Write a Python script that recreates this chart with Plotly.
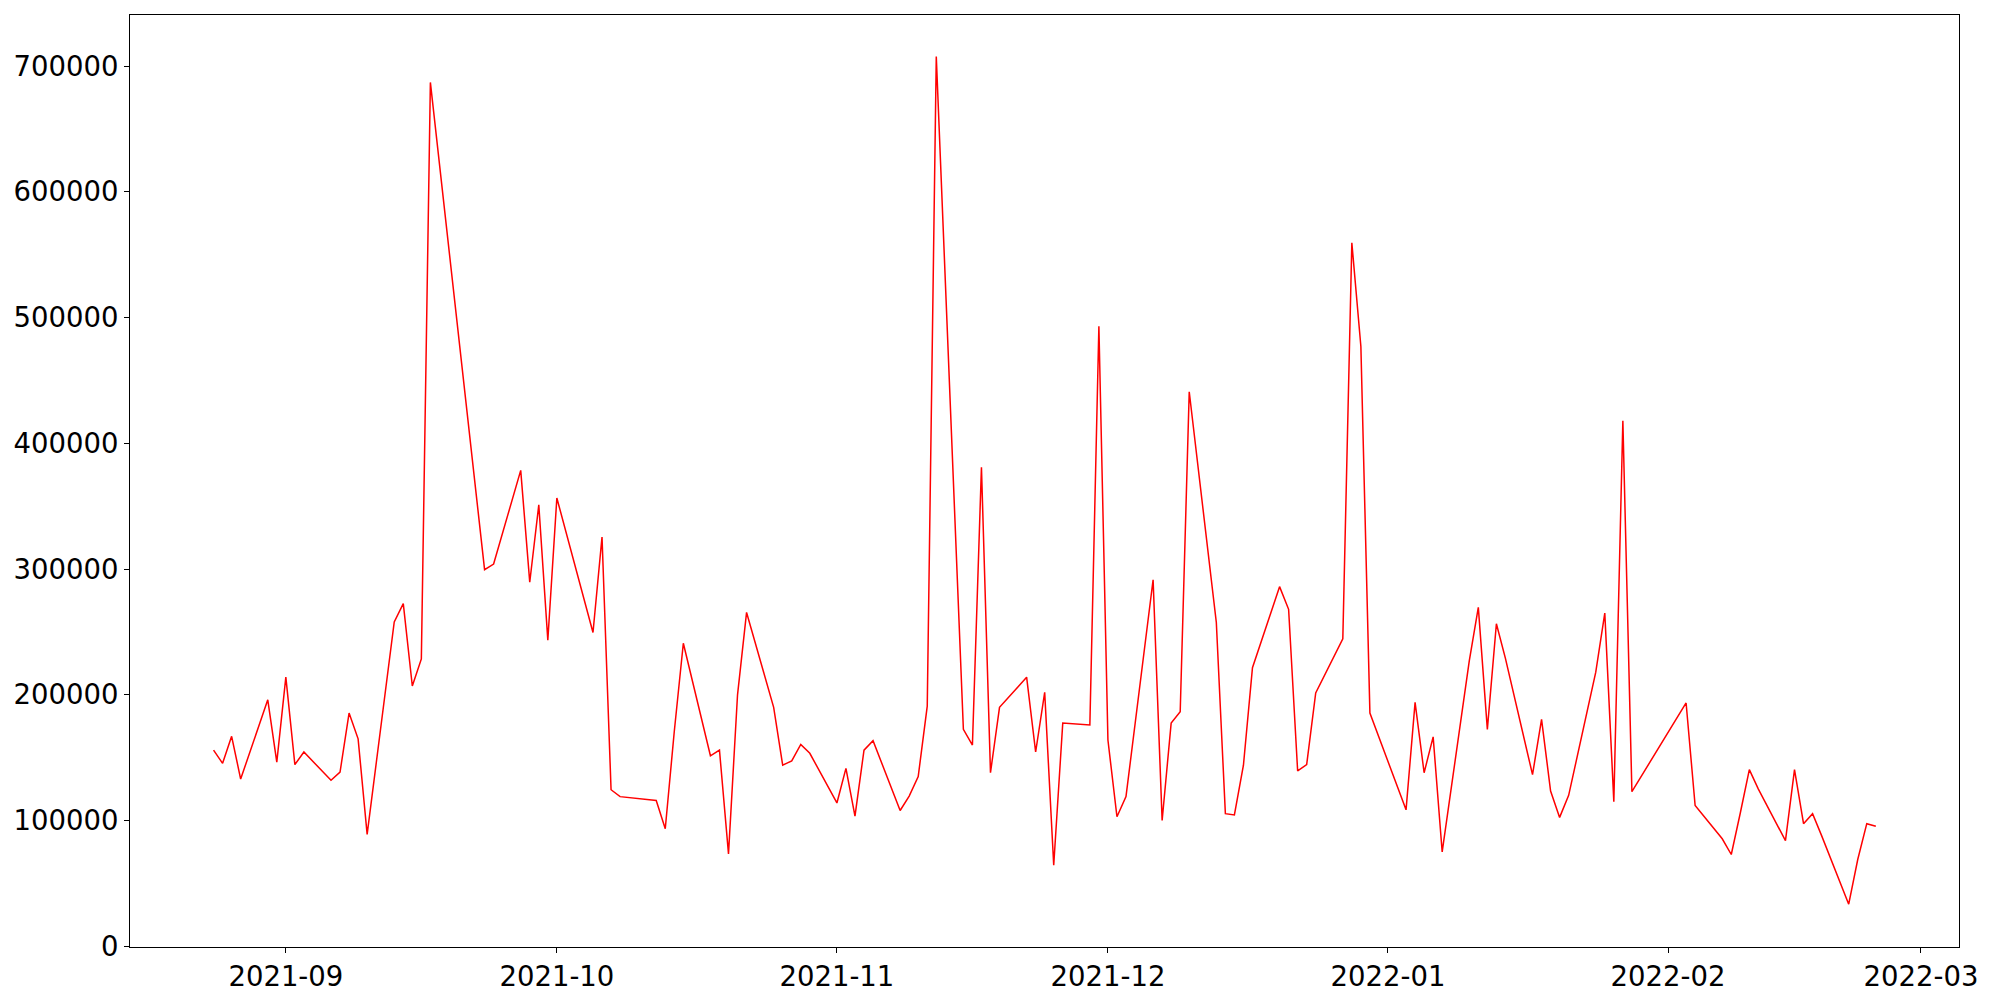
import plotly.graph_objects as go

dates = [
    "2021-08-24", "2021-08-25", "2021-08-26", "2021-08-27", "2021-08-30", "2021-08-31",
    "2021-09-01", "2021-09-02", "2021-09-03", "2021-09-06", "2021-09-07", "2021-09-08",
    "2021-09-09", "2021-09-10", "2021-09-13", "2021-09-14", "2021-09-15", "2021-09-16",
    "2021-09-17", "2021-09-23", "2021-09-24", "2021-09-27", "2021-09-28", "2021-09-29",
    "2021-09-30", "2021-10-01", "2021-10-05", "2021-10-06", "2021-10-07", "2021-10-08",
    "2021-10-12", "2021-10-13", "2021-10-14", "2021-10-15", "2021-10-18", "2021-10-19",
    "2021-10-20", "2021-10-21", "2021-10-22", "2021-10-25", "2021-10-26", "2021-10-27",
    "2021-10-28", "2021-10-29", "2021-11-01", "2021-11-02", "2021-11-03", "2021-11-04",
    "2021-11-05", "2021-11-08", "2021-11-09", "2021-11-10", "2021-11-11", "2021-11-12",
    "2021-11-15", "2021-11-16", "2021-11-17", "2021-11-18", "2021-11-19", "2021-11-22",
    "2021-11-23", "2021-11-24", "2021-11-25", "2021-11-26", "2021-11-29", "2021-11-30",
    "2021-12-01", "2021-12-02", "2021-12-03", "2021-12-06", "2021-12-07", "2021-12-08",
    "2021-12-09", "2021-12-10", "2021-12-13", "2021-12-14", "2021-12-15", "2021-12-16",
    "2021-12-17", "2021-12-20", "2021-12-21", "2021-12-22", "2021-12-23", "2021-12-24",
    "2021-12-27", "2021-12-28", "2021-12-29", "2021-12-30", "2022-01-03", "2022-01-04",
    "2022-01-05", "2022-01-06", "2022-01-07", "2022-01-10", "2022-01-11", "2022-01-12",
    "2022-01-13", "2022-01-14", "2022-01-17", "2022-01-18", "2022-01-19", "2022-01-20",
    "2022-01-21", "2022-01-24", "2022-01-25", "2022-01-26", "2022-01-27", "2022-01-28",
    "2022-02-03", "2022-02-04", "2022-02-07", "2022-02-08", "2022-02-09", "2022-02-10",
    "2022-02-11", "2022-02-14", "2022-02-15", "2022-02-16", "2022-02-17", "2022-02-18",
    "2022-02-21", "2022-02-22", "2022-02-23", "2022-02-24",
]

values = [
    156000, 145500, 167000, 133000, 196000, 146500,
    214000, 144500, 154500, 132000, 138500, 185500,
    165000, 89000, 258000, 272500, 207000, 228500,
    687000, 299500, 304000, 378500, 289500, 351000,
    243500, 356500, 249500, 325500, 124500, 119000,
    116000, 93500, 171000, 241000, 151500, 156000,
    73500, 200000, 265500, 190000, 144000, 147500,
    160500, 153500, 114000, 141500, 103500, 156000,
    163500, 108000, 119500, 135000, 191000, 707500,
    172500, 160000, 381000, 138000, 190000, 214000,
    154500, 202000, 64500, 177500, 176000, 493000,
    164000, 103000, 119000, 291500, 100000, 177500,
    186500, 441000, 257500, 105500, 104500, 144000,
    221500, 286000, 268000, 139500, 144500, 201500,
    244500, 559500, 477000, 185500, 108500, 194000,
    138000, 166500, 75000, 227000, 269500, 172500,
    256500, 229000, 136500, 180500, 123500, 102500,
    120000, 218000, 265000, 115000, 418000, 123000,
    193500, 112000, 85500, 73000, 106000, 140500,
    125000, 84000, 140500, 97500, 105500, 88000,
    33500, 69000, 97500, 95500,
]

y_ticks = [0, 100000, 200000, 300000, 400000, 500000, 600000, 700000]

fig = go.Figure(
    go.Scatter(
        x=dates,
        y=values,
        mode="lines",
        line=dict(color="red", width=1.5),
        showlegend=False,
    )
)

tick_font = dict(family="DejaVu Sans", size=27.5, color="black")

# The page body adds an 8px offset, so margins are shifted to compensate.
fig.update_layout(
    width=2000,
    height=1000,
    margin=dict(l=122, r=49, t=7, b=61, pad=0, autoexpand=False),
    paper_bgcolor="white",
    plot_bgcolor="white",
    font=tick_font,
)

fig.update_xaxes(
    type="date",
    range=["2021-08-14 18:00", "2022-03-05 05:00"],
    tick0="2021-09-01",
    dtick="M1",
    tickformat="%Y-%m",
    automargin=False,
    showgrid=False,
    zeroline=False,
    showline=True,
    mirror=True,
    linecolor="black",
    linewidth=1,
    ticks="outside",
    ticklen=5,
    tickwidth=1,
    tickcolor="black",
    tickfont=tick_font,
)

fig.update_yaxes(
    range=[-560, 740600],
    tickvals=y_ticks,
    tickformat="d",
    automargin=False,
    showgrid=False,
    zeroline=False,
    showline=True,
    mirror=True,
    linecolor="black",
    linewidth=1,
    ticks="outside",
    ticklen=5,
    tickwidth=1,
    tickcolor="black",
    tickfont=tick_font,
)

fig.write_html("out.html")
